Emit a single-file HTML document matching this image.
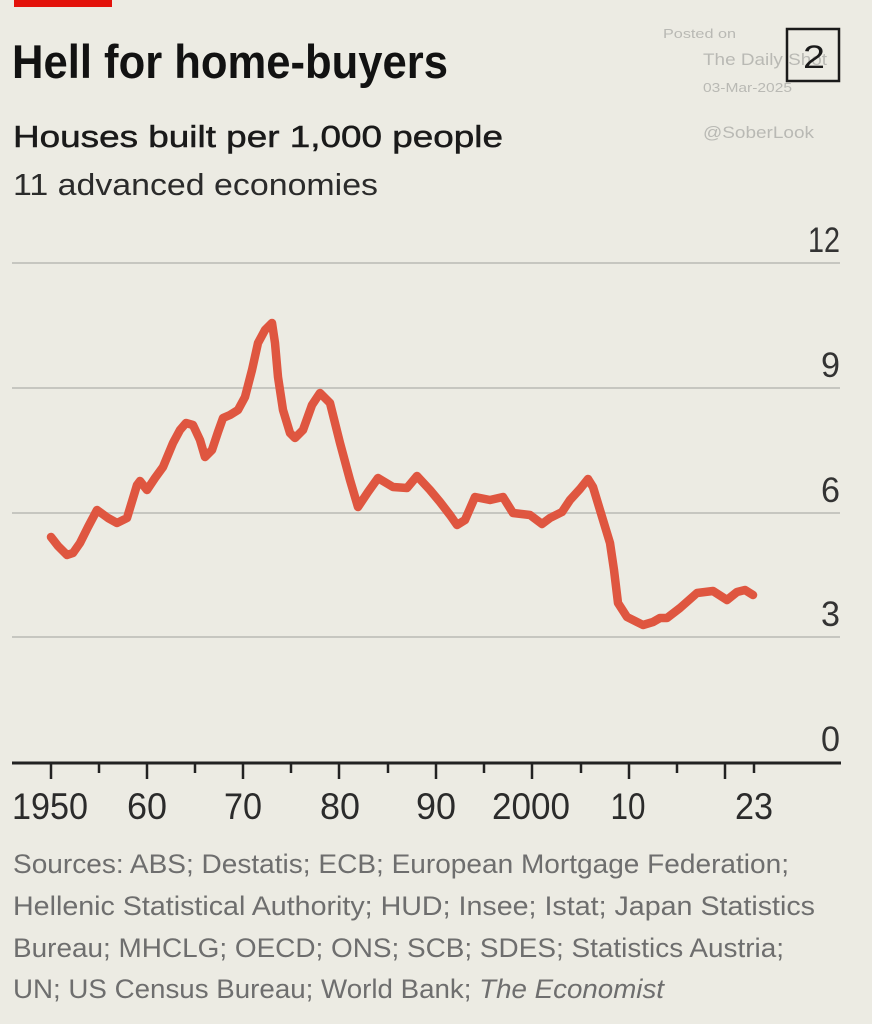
<!DOCTYPE html>
<html>
<head>
<meta charset="utf-8">
<style>
  html,body{margin:0;padding:0;}
  body{width:872px;height:1024px;background:#ecebe3;overflow:hidden;}
  svg{display:block;}
  text{font-family:"Liberation Sans", Arial, sans-serif;}
</style>
</head>
<body>
<svg width="872" height="1024" viewBox="0 0 872 1024" xmlns="http://www.w3.org/2000/svg">
  <rect x="0" y="0" width="872" height="1024" fill="#ecebe3"/>
  <!-- red tag -->
  <rect x="14" y="0" width="98" height="7" fill="#e3120b"/>

  <!-- titles -->
  <text x="12" y="78" font-size="47" font-weight="bold" fill="#121212" textLength="436" lengthAdjust="spacingAndGlyphs">Hell for home-buyers</text>
  <text x="13" y="147" font-size="31" fill="#1a1a1a" stroke="#1a1a1a" stroke-width="0.5" textLength="490" lengthAdjust="spacingAndGlyphs">Houses built per 1,000 people</text>
  <text x="13" y="195" font-size="31" fill="#2b2b2b" textLength="365" lengthAdjust="spacingAndGlyphs">11 advanced economies</text>

  <!-- watermark -->
  <g fill="#b9b9b4">
    <text x="663" y="38" font-size="13" textLength="73" lengthAdjust="spacingAndGlyphs">Posted on</text>
    <text x="703" y="65" font-size="17" textLength="124" lengthAdjust="spacingAndGlyphs">The Daily Shot</text>
    <text x="703" y="92" font-size="12.5" textLength="89" lengthAdjust="spacingAndGlyphs">03-Mar-2025</text>
    <text x="703" y="138" font-size="17" textLength="111" lengthAdjust="spacingAndGlyphs">@SoberLook</text>
  </g>
  <!-- chart number box -->
  <rect x="787" y="29" width="52" height="52" fill="none" stroke="#1a1a1a" stroke-width="2.5"/>
  <text x="814" y="68" font-size="32" fill="#1a1a1a" text-anchor="middle" textLength="22" lengthAdjust="spacingAndGlyphs">2</text>

  <!-- gridlines -->
  <g stroke="#c6c6c0" stroke-width="2">
    <line x1="12" y1="263" x2="840" y2="263"/>
    <line x1="12" y1="388" x2="840" y2="388"/>
    <line x1="12" y1="513" x2="840" y2="513"/>
    <line x1="12" y1="637" x2="840" y2="637"/>
  </g>

  <!-- y labels -->
  <g font-size="35" fill="#333" text-anchor="end">
    <text x="840" y="252" textLength="32" lengthAdjust="spacingAndGlyphs">12</text>
    <text x="840" y="377" textLength="19" lengthAdjust="spacingAndGlyphs">9</text>
    <text x="840" y="502" textLength="19" lengthAdjust="spacingAndGlyphs">6</text>
    <text x="840" y="626" textLength="19" lengthAdjust="spacingAndGlyphs">3</text>
    <text x="840" y="751" textLength="19" lengthAdjust="spacingAndGlyphs">0</text>
  </g>

  <!-- axis -->
  <line x1="12" y1="763" x2="841" y2="763" stroke="#222" stroke-width="3"/>
  <g stroke="#222" stroke-width="2.5">
    <line x1="51" y1="763" x2="51" y2="779"/>
    <line x1="99" y1="763" x2="99" y2="773"/>
    <line x1="147" y1="763" x2="147" y2="779"/>
    <line x1="195" y1="763" x2="195" y2="773"/>
    <line x1="243" y1="763" x2="243" y2="779"/>
    <line x1="291" y1="763" x2="291" y2="773"/>
    <line x1="339" y1="763" x2="339" y2="779"/>
    <line x1="388" y1="763" x2="388" y2="773"/>
    <line x1="436" y1="763" x2="436" y2="779"/>
    <line x1="484" y1="763" x2="484" y2="773"/>
    <line x1="532" y1="763" x2="532" y2="779"/>
    <line x1="581" y1="763" x2="581" y2="773"/>
    <line x1="629" y1="763" x2="629" y2="779"/>
    <line x1="677" y1="763" x2="677" y2="773"/>
    <line x1="725" y1="763" x2="725" y2="779"/>
    <line x1="754" y1="763" x2="754" y2="773"/>
  </g>

  <!-- x labels -->
  <g font-size="37" fill="#2b2b2b" text-anchor="middle">
    <text x="50" y="819" textLength="76" lengthAdjust="spacingAndGlyphs">1950</text>
    <text x="147" y="819" textLength="40" lengthAdjust="spacingAndGlyphs">60</text>
    <text x="243" y="819" textLength="38" lengthAdjust="spacingAndGlyphs">70</text>
    <text x="340" y="819" textLength="40" lengthAdjust="spacingAndGlyphs">80</text>
    <text x="436" y="819" textLength="40" lengthAdjust="spacingAndGlyphs">90</text>
    <text x="531" y="819" textLength="78" lengthAdjust="spacingAndGlyphs">2000</text>
    <text x="628" y="819" textLength="35" lengthAdjust="spacingAndGlyphs">10</text>
    <text x="754" y="819" textLength="38" lengthAdjust="spacingAndGlyphs">23</text>
  </g>

  <!-- data line -->
  <polyline fill="none" stroke="#df5640" stroke-width="8.5" stroke-linejoin="round" stroke-linecap="round"
    points="51,537 58,546 67,555 73,553 80,543 88,527 97,510 108,518 117,523 127,518 137,485 140,481 147,490 155,478 163,467 173,443 180,430 186,423 193,425 200,440 205,457 212,450 218,432 223,418 230,415 238,410 245,397 252,370 258,343 265,330 272,323 275,343 278,377 283,410 290,433 295,438 303,430 312,405 320,393 330,403 340,443 350,480 358,507 368,492 378,478 393,487 407,488 417,476 430,490 440,502 450,515 457,525 465,520 475,497 490,500 503,497 513,513 530,515 542,524 550,518 562,512 570,500 580,489 588,479 593,487 603,520 610,543 614,570 618,603 627,617 643,625 653,622 660,618 667,618 680,608 697,593 713,591 727,600 737,592 745,590 753,595"/>

  <!-- sources -->
  <g font-size="27" fill="#6e6e6e">
    <text x="13" y="873" textLength="776" lengthAdjust="spacingAndGlyphs">Sources: ABS; Destatis; ECB; European Mortgage Federation;</text>
    <text x="13" y="915" textLength="802" lengthAdjust="spacingAndGlyphs">Hellenic Statistical Authority; HUD; Insee; Istat; Japan Statistics</text>
    <text x="13" y="957" textLength="771" lengthAdjust="spacingAndGlyphs">Bureau; MHCLG; OECD; ONS; SCB; SDES; Statistics Austria;</text>
    <text x="13" y="998" textLength="651" lengthAdjust="spacingAndGlyphs">UN; US Census Bureau; World Bank; <tspan font-style="italic">The Economist</tspan></text>
  </g>
</svg>
</body>
</html>
